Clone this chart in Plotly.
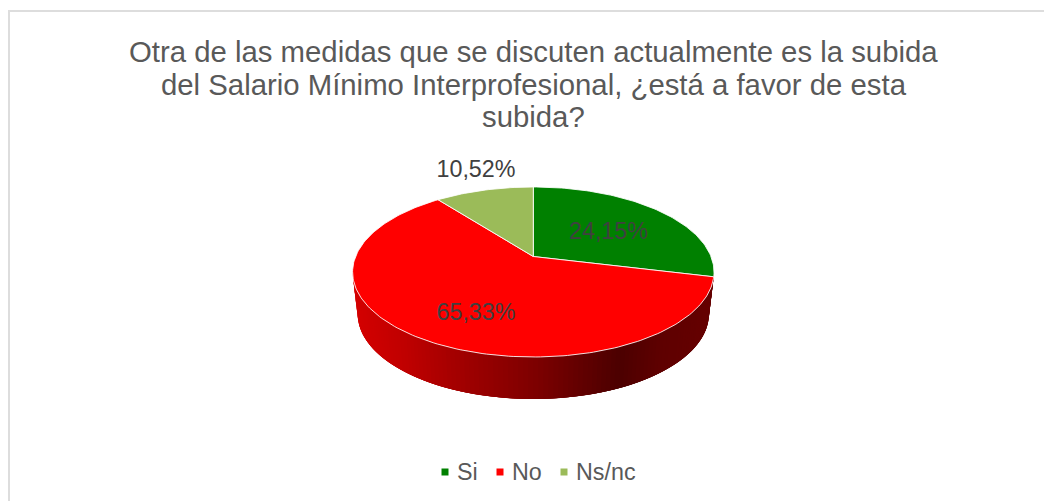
import math
import plotly.graph_objects as go

# ---- data ----
categories = ["Si", "No", "Ns/nc"]
label_text = ["24,15%", "65,33%", "10,52%"]
# slice shares as drawn in the picture (percent of the circle, clockwise from 12 o'clock)
drawn_share = [28.8, 60.7, 10.5]
colors = ["#008000", "#FF0000", "#9BBB59"]
title_lines = [
    "Otra de las medidas que se discuten actualmente es la subida",
    "del Salario Mínimo Interprofesional, ¿está a favor de esta",
    "subida?",
]
# ---- layout constants (pixel space) ----
W, H = 1044, 501
CX, CY, A, B, K = 533.3, 256.5, 177.7, 82.2, 0.182
DEPTH, SCALE = 42, 0.972
FONT = "Liberation Sans, Arial, sans-serif"
label_pos = [(608.5, 233), (476, 314), (476, 171)]
legend_pos = [(445, 472), (500, 472), (564, 472)]
title_y = [51, 84, 116]
side_stops = [(353, (212, 0, 0)), (400, (192, 0, 0)), (450, (165, 0, 0)), (533, (125, 0, 0)),
              (600, (86, 0, 0)), (618, (76, 0, 0)), (660, (94, 0, 0)), (715, (102, 0, 0))]


def top(t):
    s, c = math.sin(t), math.cos(t)
    d = 1 + K * s
    return CX + A * c / d, CY - B * s / d


def bottom(t):
    x, y = top(t)
    return CX + (x - CX) * SCALE, y + DEPTH


def side_color(x):
    for (x0, c0), (x1, c1) in zip(side_stops, side_stops[1:]):
        if x <= x1:
            f = max(0, (x - x0) / (x1 - x0))
            return "rgb(%d,%d,%d)" % tuple(round(a + (b - a) * f) for a, b in zip(c0, c1))
    return "rgb(%d,%d,%d)" % side_stops[-1][1]


fig = go.Figure()

# side wall of the disc: overlapping strips carrying the horizontal gradient
# each strip runs a few steps past its neighbour; the next strip paints over the overlap
n = 120
overlap = 4
start, end = math.radians(-171), math.radians(-9)
for i in range(n):
    ts = [start + (end - start) * j / n for j in range(i, min(i + overlap, n) + 1)]
    upper = [top(t) for t in ts]
    lower = [bottom(t) for t in reversed(ts)]
    p = upper + lower + [upper[0]]
    col = side_color(upper[0][0])
    fig.add_trace(go.Scatter(x=[q[0] for q in p], y=[q[1] for q in p],
                             mode="lines", fill="toself", fillcolor=col,
                             line=dict(color=col, width=0), hoverinfo="skip", showlegend=False))

# top face, one polygon per slice, computed from the shares
total = sum(drawn_share)
angle = math.pi / 2
for name, share, col in zip(categories, drawn_share, colors):
    sweep = 2 * math.pi * share / total
    steps = max(8, int(share * 3))
    pts = [(CX, CY)] + [top(angle - sweep * j / steps) for j in range(steps + 1)] + [(CX, CY)]
    fig.add_trace(go.Scatter(x=[q[0] for q in pts], y=[q[1] for q in pts], mode="lines", fill="toself",
                             fillcolor=col, line=dict(color="rgba(255,255,255,0.85)", width=1),
                             name=name, showlegend=False, hoverinfo="name"))
    angle -= sweep

# data labels
fig.add_trace(go.Scatter(x=[p[0] for p in label_pos], y=[p[1] for p in label_pos], mode="text",
                         text=label_text, textposition="middle center",
                         textfont=dict(family=FONT, size=23.3, color="#404040"),
                         hoverinfo="skip", showlegend=False))

# legend
for (x, y), name, col in zip(legend_pos, categories, colors):
    fig.add_trace(go.Scatter(x=[x], y=[y], mode="markers", marker=dict(symbol="square", size=7, color=col),
                             hoverinfo="skip", showlegend=False))
    fig.add_annotation(x=x + 10, y=y, text=name, showarrow=False, xanchor="left", yanchor="middle",
                       font=dict(family=FONT, size=23.3, color="#595959"))

# title
for txt, y in zip(title_lines, title_y):
    fig.add_annotation(x=533.5, y=y, text=txt, showarrow=False, xanchor="center", yanchor="middle",
                       font=dict(family=FONT, size=29.33, color="#595959"))

fig.update_layout(
    width=W, height=H, margin=dict(l=0, r=0, t=0, b=0), autosize=False,
    paper_bgcolor="white", plot_bgcolor="white",
    xaxis=dict(range=[0, W], visible=False, fixedrange=True),
    yaxis=dict(range=[H, 0], visible=False, fixedrange=True),
    shapes=[dict(type="path", xref="x", yref="y", path="M 9 520 L 9 11 L 1060 11",
                 line=dict(color="#DDDDDD", width=2), layer="below")],
)
fig.write_html("out.html", config=dict(displayModeBar=False),
               post_script="document.body.style.margin='0';document.documentElement.style.overflow='hidden';")
